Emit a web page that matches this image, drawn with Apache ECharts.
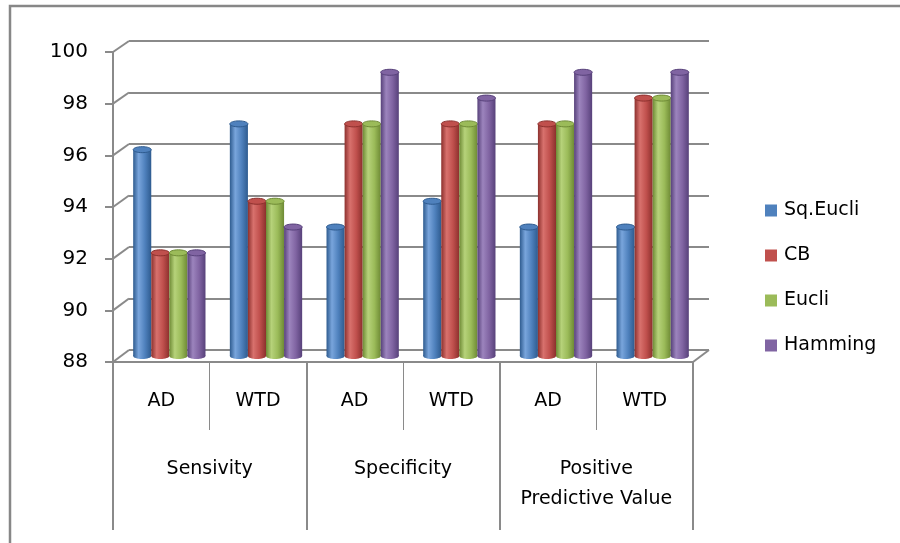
<!DOCTYPE html>
<html>
<head>
<meta charset="utf-8">
<script src="https://cdn.jsdelivr.net/npm/echarts@6/dist/echarts.min.js"></script>
<style>
  html, body { margin: 0; padding: 0; background: #fff; }
  #chart { width: 900px; height: 543px; }
</style>
</head>
<body>
<div id="chart"></div>
<script>
// Sub-categories (inner level) and their parent groups (outer level)
const subCategories = ['AD', 'WTD', 'AD', 'WTD', 'AD', 'WTD'];
const groupCategories = ['Sensivity', 'Specificity', 'Positive\nPredictive Value'];

// Series values, one per sub-category
const seriesNames = ['Sq.Eucli', 'CB', 'Eucli', 'Hamming'];
const sqEucli = [96, 97, 93, 94, 93, 93];
const cb      = [92, 94, 97, 97, 97, 98];
const eucli   = [92, 94, 97, 97, 97, 98];
const hamming = [92, 93, 99, 98, 99, 99];

// Value axis
const Y_MIN = 88;
const Y_MAX = 100;
const Y_STEP = 2;

const FONT = 'DejaVu Sans';
const GRID_GRAY = '#8a8a8a';

// Cylinder shading: [base, dark edge, highlight]
const palette = [
  ['#4F81BD', '#2E5B8F', '#79A5DC'],
  ['#C0504D', '#8C302D', '#D8716D'],
  ['#9BBB59', '#6E8A35', '#B6D27A'],
  ['#8064A2', '#57417A', '#9C84BD']
];
const seriesData = [sqEucli, cb, eucli, hamming];

function cylinderFill(c) {
  return new echarts.graphic.LinearGradient(0, 0, 1, 0, [
    { offset: 0, color: c[1] },
    { offset: 0.3, color: c[2] },
    { offset: 0.65, color: c[0] },
    { offset: 1, color: c[1] }
  ]);
}

function makeRenderer(s) {
  const c = palette[s];
  return function (params, api) {
    const cat = api.value(0);
    const v = api.value(1);
    const top = api.coord([cat, v]);
    const base = api.coord([cat, Y_MIN]);
    const band = api.size([1, 0])[0];
    const w = band * 0.187;
    const cx = top[0] + (s - 1.5) * w;
    const ry = 3;
    const fill = cylinderFill(c);
    return {
      type: 'group',
      children: [
        {
          type: 'ellipse',
          shape: { cx: cx, cy: base[1], rx: w / 2, ry: ry },
          style: { fill: fill }
        },
        {
          type: 'rect',
          shape: { x: cx - w / 2, y: top[1], width: w, height: base[1] - top[1] },
          style: { fill: fill }
        },
        {
          type: 'ellipse',
          shape: { cx: cx, cy: top[1], rx: w / 2, ry: ry },
          style: { fill: c[0], stroke: c[1], lineWidth: 1 }
        }
      ]
    };
  };
}

const chart = echarts.init(document.getElementById('chart'), null, { renderer: 'canvas' });

const option = {
  backgroundColor: '#ffffff',
  animation: false,
  textStyle: { fontFamily: FONT, color: '#000' },
  legend: {
    orient: 'vertical',
    left: 760,
    top: 196,
    itemWidth: 12,
    itemHeight: 12,
    itemGap: 26,
    icon: 'rect',
    data: seriesNames,
    textStyle: { fontFamily: FONT, fontSize: 19, color: '#000', lineHeight: 19, padding: [0, 0, 0, 2] }
  },
  grid: [
    // back wall
    { left: 129, right: 191, top: 41, bottom: 193 },
    // front axes
    { left: 113, right: 207, top: 52, bottom: 181 },
    // columns at mid depth
    { left: 121, right: 199, top: 46.5, bottom: 187 }
  ],
  xAxis: [
    { gridIndex: 0, type: 'category', data: subCategories, show: false },
    {
      gridIndex: 1, type: 'category', data: subCategories, position: 'bottom',
      axisLine: { show: true, lineStyle: { color: GRID_GRAY, width: 2 } },
      axisTick: { show: true, length: 68, lineStyle: { color: GRID_GRAY, width: 1 } },
      axisLabel: { interval: 0, margin: 30, fontFamily: FONT, fontSize: 19, lineHeight: 19, color: '#000' }
    },
    {
      gridIndex: 1, type: 'category', data: groupCategories, position: 'bottom',
      axisLine: { show: false },
      axisTick: { show: true, length: 168, lineStyle: { color: GRID_GRAY, width: 2 } },
      axisLabel: { interval: 0, margin: 92, fontFamily: FONT, fontSize: 19, lineHeight: 30, color: '#000', verticalAlign: 'top' }
    },
    { gridIndex: 2, type: 'category', data: subCategories, show: false }
  ],
  yAxis: [
    {
      gridIndex: 0, type: 'value', min: Y_MIN, max: Y_MAX, interval: Y_STEP,
      axisLine: { show: false }, axisTick: { show: false }, axisLabel: { show: false },
      splitLine: { show: true, lineStyle: { color: GRID_GRAY, width: 2 } }
    },
    {
      gridIndex: 1, type: 'value', min: Y_MIN, max: Y_MAX, interval: Y_STEP,
      axisLine: { show: true, lineStyle: { color: GRID_GRAY, width: 2 } },
      axisTick: { show: true, length: 8, lineStyle: { color: GRID_GRAY, width: 2 } },
      axisLabel: { margin: 25, fontFamily: FONT, fontSize: 20, color: '#000' },
      splitLine: { show: false }
    },
    {
      gridIndex: 2, type: 'value', min: Y_MIN, max: Y_MAX, interval: Y_STEP, show: false,
      splitLine: { show: false }
    }
  ],
  series: seriesNames.map(function (name, s) {
    return {
      name: name,
      type: 'custom',
      xAxisIndex: 3,
      yAxisIndex: 2,
      itemStyle: { color: palette[s][0] },
      renderItem: makeRenderer(s),
      encode: { x: 0, y: 1 },
      data: seriesData[s].map(function (v, i) { return [i, v]; }),
      z: 3
    };
  })
};

chart.setOption(option);

// Depth connectors between the front axes and the back wall, plus chart frame
const graphics = [];
const lineStyle = { stroke: GRID_GRAY, lineWidth: 2 };
const gridFront = chart.getModel().getComponent('grid', 1).coordinateSystem.getRect();
const gridBack = chart.getModel().getComponent('grid', 0).coordinateSystem.getRect();
for (let v = Y_MIN; v <= Y_MAX; v += Y_STEP) {
  const f = chart.convertToPixel({ xAxisIndex: 1, yAxisIndex: 1 }, [0, v]);
  const b = chart.convertToPixel({ xAxisIndex: 0, yAxisIndex: 0 }, [0, v]);
  graphics.push({
    type: 'line', silent: true, z: 1,
    shape: { x1: gridFront.x, y1: f[1], x2: gridBack.x, y2: b[1] },
    style: lineStyle
  });
  if (v === Y_MIN) {
    graphics.push({
      type: 'line', silent: true, z: 1,
      shape: { x1: gridFront.x + gridFront.width, y1: f[1], x2: gridBack.x + gridBack.width, y2: b[1] },
      style: lineStyle
    });
  }
}
// chart area frame (top and left edges)
graphics.push({
  type: 'polyline', silent: true, z: 0,
  shape: { points: [[10, 543], [10, 6], [900, 6]] },
  style: { stroke: '#878787', lineWidth: 2.5, fill: null }
});
chart.setOption({ graphic: graphics });
</script>
</body>
</html>
